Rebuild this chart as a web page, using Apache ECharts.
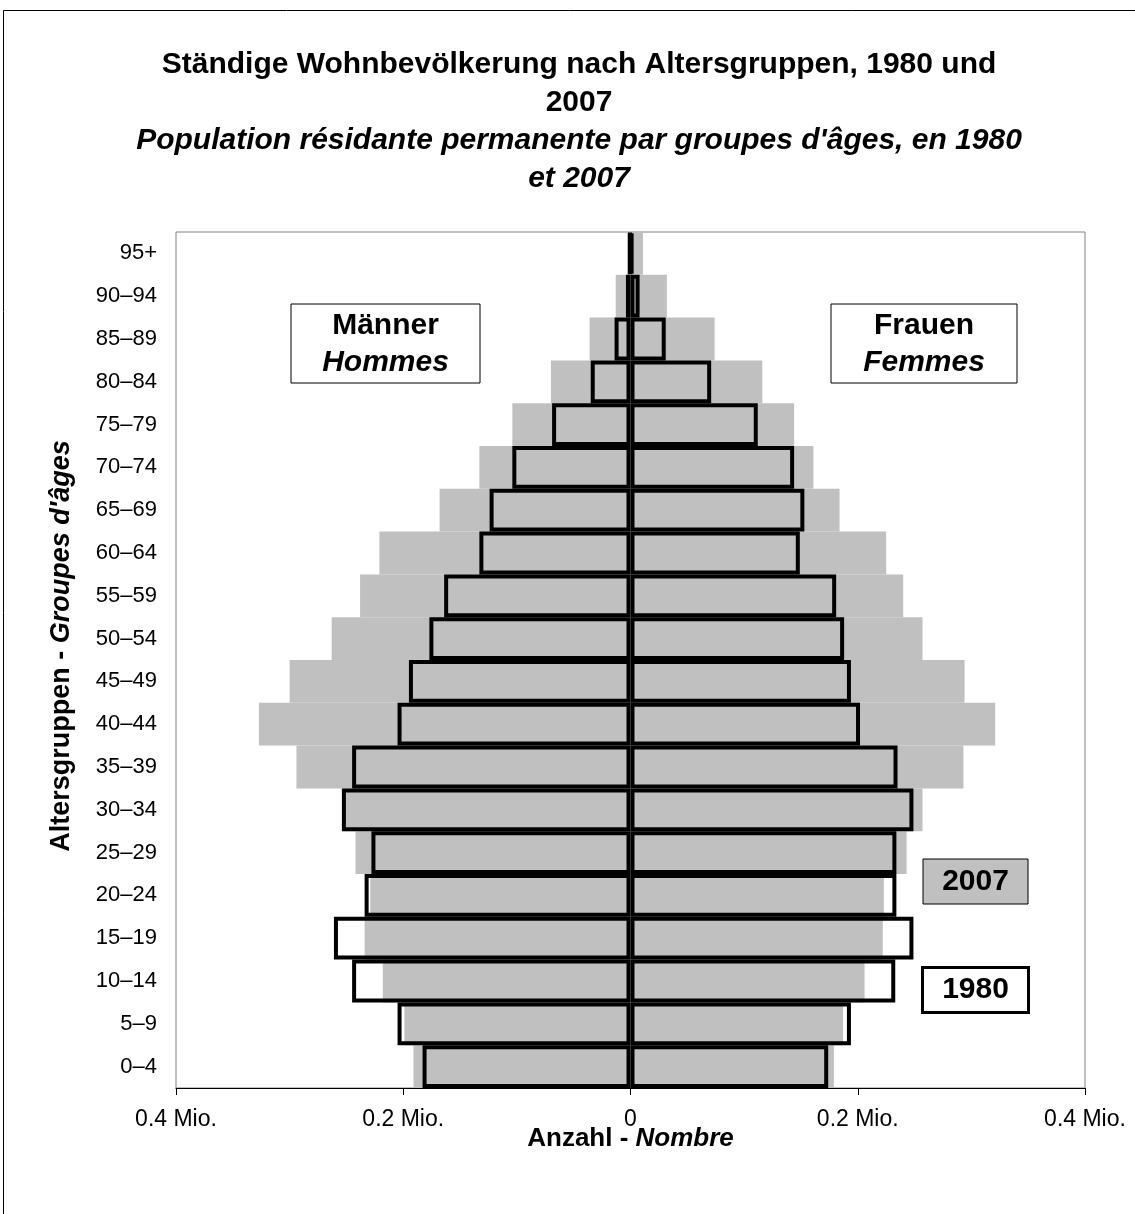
<!DOCTYPE html>
<html>
<head>
<meta charset="utf-8">
<script src="https://cdn.jsdelivr.net/npm/echarts@6/dist/echarts.min.js"></script>
<style>
  html, body { margin: 0; padding: 0; background: #fff; }
  #pyramid { width: 1135px; height: 1214px; }
</style>
</head>
<body>
<div id="pyramid"></div>
<script>
// age groups, bottom to top
var ageGroups = ['0–4', '5–9', '10–14', '15–19', '20–24', '25–29', '30–34', '35–39', '40–44', '45–49',
  '50–54', '55–59', '60–64', '65–69', '70–74', '75–79', '80–84', '85–89', '90–94', '95+']
// Mio. persons, 2007 (grey bars)
var men2007 = [0.191, 0.199, 0.218, 0.234, 0.229, 0.242, 0.253, 0.294, 0.327, 0.300,
  0.263, 0.238, 0.221, 0.168, 0.133, 0.104, 0.070, 0.036, 0.013, 0.003]
var women2007 = [0.179, 0.187, 0.206, 0.222, 0.223, 0.243, 0.257, 0.293, 0.321, 0.294,
  0.257, 0.240, 0.225, 0.184, 0.161, 0.144, 0.116, 0.074, 0.032, 0.011]
// Mio. persons, 1980 (outlined bars)
var men1980 = [0.183, 0.205, 0.245, 0.261, 0.234, 0.228, 0.254, 0.245, 0.205, 0.195,
  0.177, 0.164, 0.133, 0.124, 0.104, 0.069, 0.035, 0.014, 0.004, 0.001]
var women1980 = [0.174, 0.194, 0.233, 0.249, 0.234, 0.234, 0.249, 0.235, 0.202, 0.194,
  0.188, 0.181, 0.149, 0.153, 0.144, 0.112, 0.071, 0.031, 0.008, 0.002]

var FONT = '"Liberation Sans", Arial, sans-serif'

function neg(arr) {
  return arr.map(function(v) { return -v })
}

var chart = echarts.init(document.getElementById('pyramid'))

function barSeries(name, data, fill, outline) {
  return {
    name: name,
    type: 'bar',
    data: data,
    barGap: '-100%',
    barCategoryGap: '0%',
    clip: false,
    z: outline ? 4 : 2,
    silent: true,
    itemStyle: outline
      ? { color: 'rgba(0,0,0,0)', borderColor: '#000', borderWidth: 4 }
      : { color: fill, borderWidth: 0 }
  }
}

// small framed text boxes (Männer/Frauen, 2007/1980 keys)
function labelBox(x, y, w, h, fill, lw, lines) {
  var els = [{
    type: 'rect',
    shape: { x: x, y: y, width: w, height: h },
    style: { fill: fill, stroke: '#000', lineWidth: lw },
    z: 10
  }]
  lines.forEach(function(l) {
    els.push({
      type: 'text',
      x: x + w / 2,
      y: l.y,
      z: 11,
      style: {
        text: l.text,
        fill: '#000',
        font: (l.italic ? 'italic ' : '') + 'bold 30px ' + FONT,
        textAlign: 'center',
        textVerticalAlign: 'middle'
      }
    })
  })
  return els
}

var option = {
  backgroundColor: '#fff',
  animation: false,
  textStyle: { fontFamily: FONT },
  title: {
    text: '{de|Ständige Wohnbevölkerung nach Altersgruppen, 1980 und}\n{de|2007}\n' +
      "{fr|Population résidante permanente par groupes d'âges, en 1980}\n{fr|et 2007}",
    left: 574,
    top: 41,
    textAlign: 'center',
    textStyle: {
      rich: {
        de: { fontFamily: FONT, fontSize: 30, fontWeight: 'bold', lineHeight: 38, color: '#000' },
        fr: { fontFamily: FONT, fontSize: 30, fontWeight: 'bold', fontStyle: 'italic', lineHeight: 38, color: '#000' }
      }
    }
  },
  grid: {
    left: 176,
    right: 50,
    top: 232,
    bottom: 126,
    show: true,
    borderColor: '#808080',
    borderWidth: 1,
    backgroundColor: '#fff'
  },
  xAxis: {
    type: 'value',
    min: -0.4,
    max: 0.4,
    interval: 0.2,
    splitLine: { show: false },
    axisLine: { show: true, lineStyle: { color: '#000', width: 1 } },
    axisTick: { show: true, length: 7, lineStyle: { color: '#000' } },
    axisLabel: {
      margin: 20,
      fontSize: 23,
      color: '#000',
      fontFamily: FONT,
      formatter: function(v) {
        return Math.abs(v) < 1e-9 ? '0' : Math.abs(v).toFixed(1) + ' Mio.'
      }
    },
    name: '{a|Anzahl - }{b|Nombre}',
    nameLocation: 'middle',
    nameGap: 38,
    nameMoveOverlap: false,
    nameTextStyle: {
      rich: {
        a: { fontFamily: FONT, fontSize: 26, fontWeight: 'bold', color: '#000' },
        b: { fontFamily: FONT, fontSize: 26, fontWeight: 'bold', fontStyle: 'italic', color: '#000' }
      }
    }
  },
  yAxis: {
    type: 'category',
    data: ageGroups,
    axisLine: { show: false },
    axisTick: { show: false },
    axisLabel: { margin: 19, fontSize: 22, color: '#000', fontFamily: FONT },
    name: '{a|Altersgruppen - }{b|Groupes d\'âges}',
    nameLocation: 'middle',
    nameRotate: 90,
    nameGap: 101,
    nameMoveOverlap: false,
    nameTextStyle: {
      padding: [0, 0, 0, 28],
      rich: {
        a: { fontFamily: FONT, fontSize: 27, fontWeight: 'bold', color: '#000' },
        b: { fontFamily: FONT, fontSize: 27, fontWeight: 'bold', fontStyle: 'italic', color: '#000' }
      }
    }
  },
  series: [
    barSeries('Männer 2007', neg(men2007), '#c0c0c0', false),
    barSeries('Frauen 2007', women2007, '#c0c0c0', false),
    barSeries('Männer 1980', neg(men1980), null, true),
    barSeries('Frauen 1980', women1980, null, true)
  ],
  graphic: [
    {
      type: 'rect',
      shape: { x: 3.5, y: 10.5, width: 1140, height: 1220 },
      style: { fill: 'none', stroke: '#000', lineWidth: 1 },
      z: 0
    }
  ]
    .concat(labelBox(291, 304, 189, 79, '#fff', 1, [{ text: 'Männer', y: 326 }, { text: 'Hommes', y: 363, italic: true }]))
    .concat(labelBox(831, 304, 186, 79, '#fff', 1, [{ text: 'Frauen', y: 326 }, { text: 'Femmes', y: 363, italic: true }]))
    .concat(labelBox(923, 859, 105, 45, '#c0c0c0', 1, [{ text: '2007', y: 882 }]))
    .concat(labelBox(922.5, 967.5, 106, 45, '#fff', 3, [{ text: '1980', y: 990 }]))
}

chart.setOption(option)
</script>
</body>
</html>
